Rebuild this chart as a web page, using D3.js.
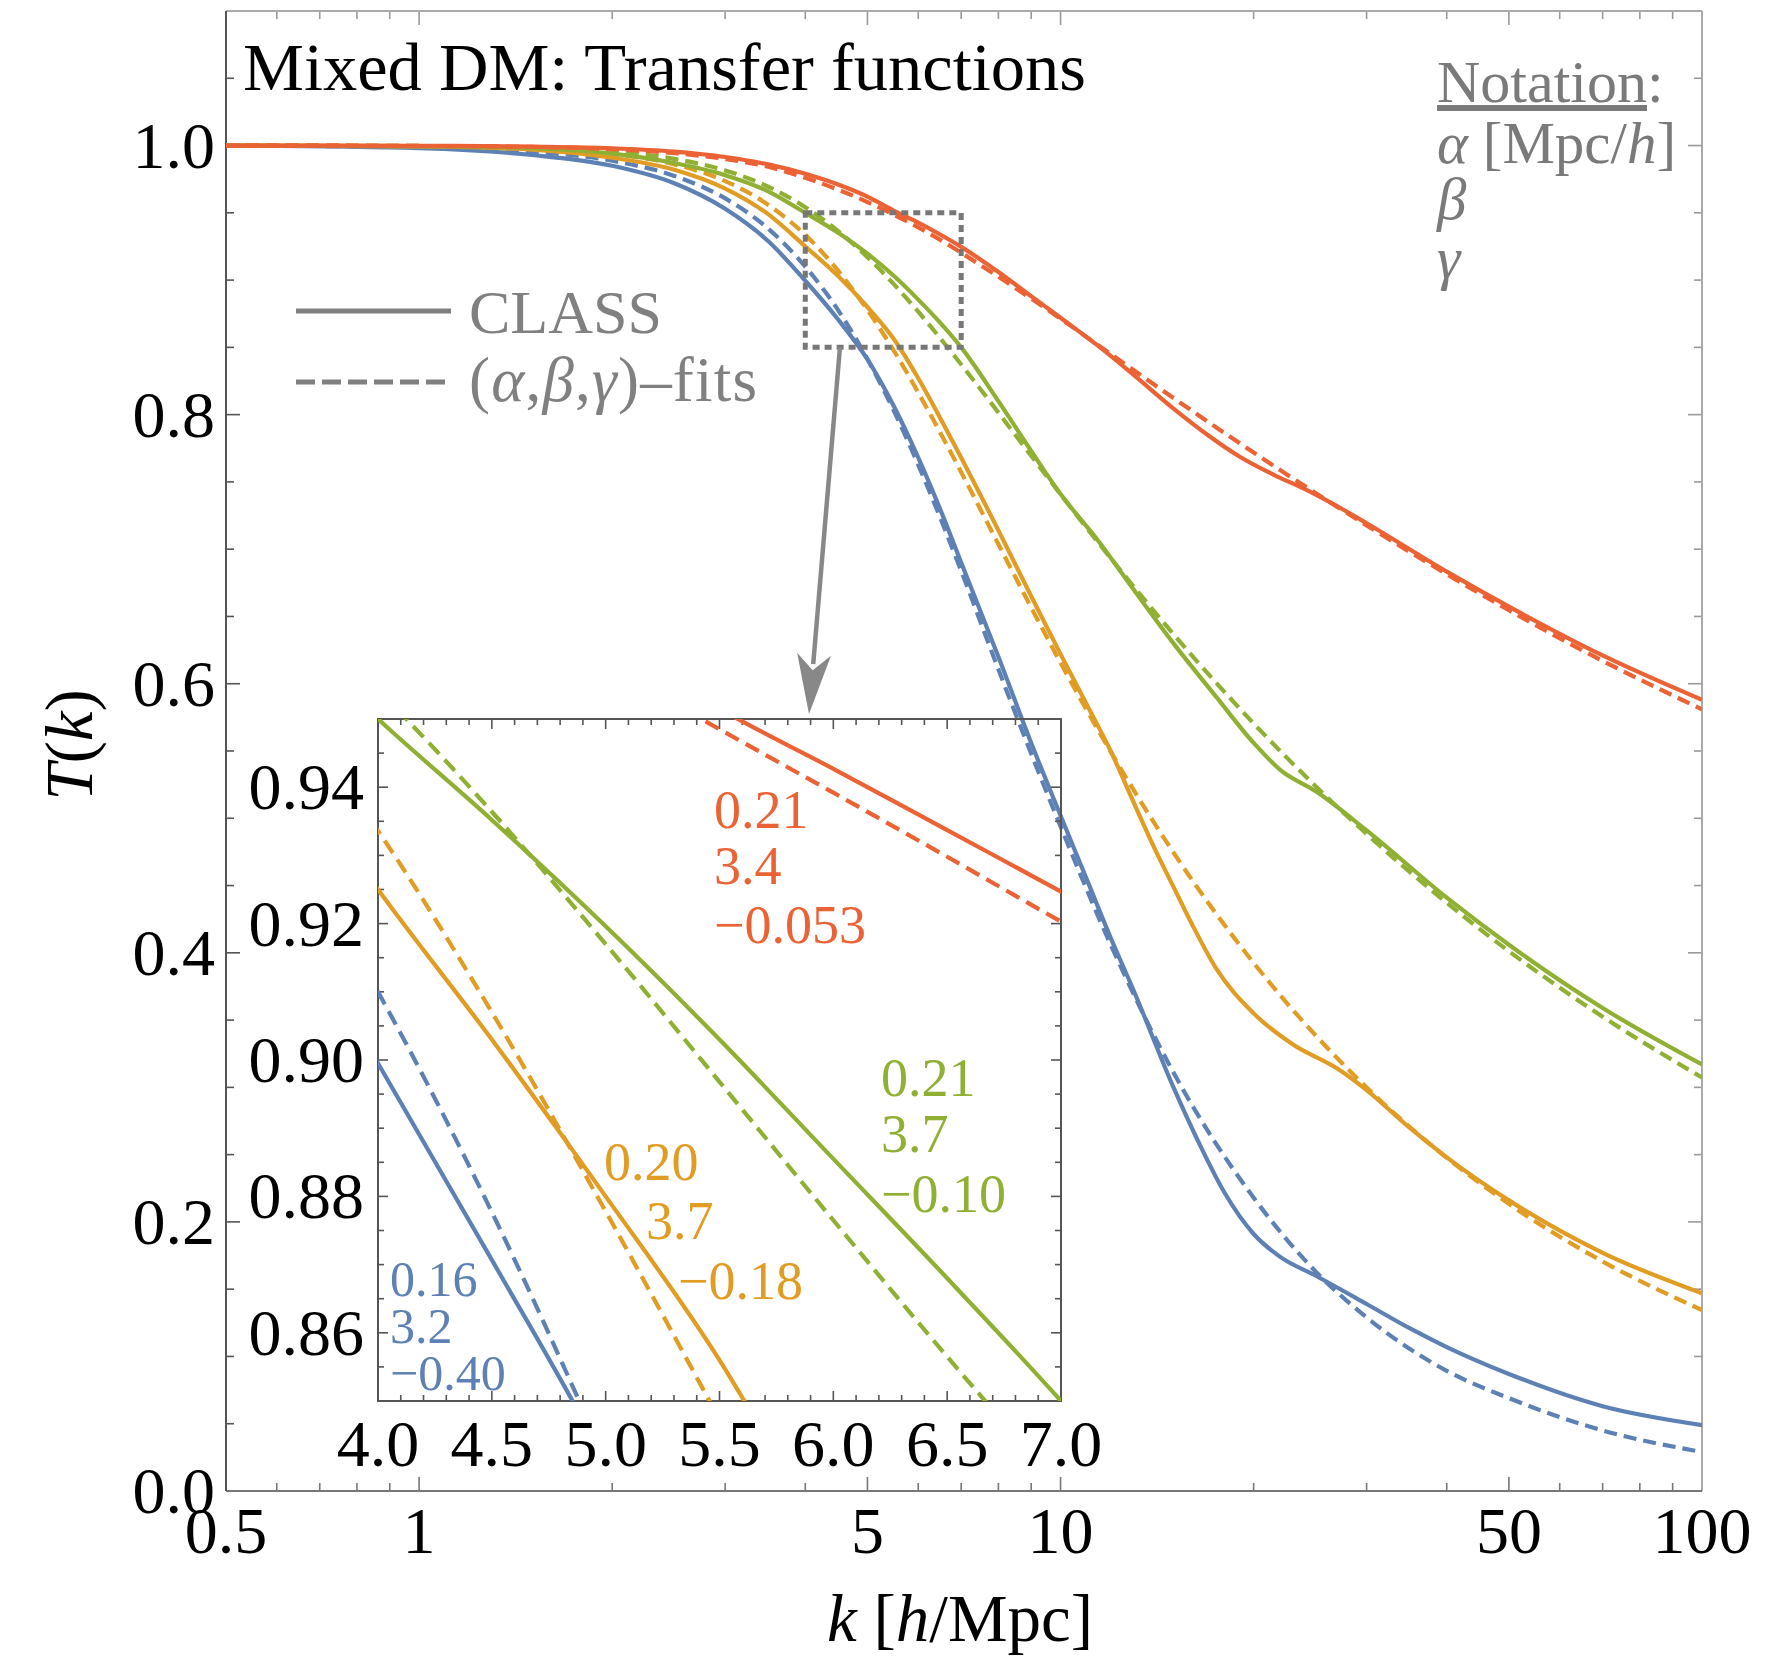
<!DOCTYPE html>
<html><head><meta charset="utf-8">
<script src="https://cdn.jsdelivr.net/npm/d3@7"></script>
<style>
body{margin:0;background:#fff}
text{font-family:"Liberation Serif","Times New Roman",serif}
</style>
</head><body>
<svg id="c" width="1771" height="1662"></svg>
<script>
// ---------------- DATA ----------------
const kGrid = [0.5, 1, 1.5, 2, 2.5, 3, 3.5, 4, 4.5, 5, 5.5, 6, 6.5, 7, 8, 9, 10, 12, 15, 20, 25, 30, 40, 50, 70, 100];

const blueFitT   = [1.0, 0.9988, 0.9955, 0.9887, 0.9774, 0.9607, 0.9383, 0.9100, 0.8777, 0.8413, 0.8026, 0.7627, 0.7228, 0.6838, 0.6107, 0.5480, 0.4940, 0.4050, 0.3110, 0.2180, 0.1630, 0.1290, 0.0893, 0.0690, 0.0450, 0.0290];
const orangeFitT = [1.0, 0.9995, 0.9978, 0.9937, 0.9860, 0.9736, 0.9560, 0.9336, 0.9070, 0.8778, 0.8473, 0.8164, 0.7862, 0.7572, 0.7037, 0.6566, 0.6156, 0.5486, 0.4745, 0.3925, 0.3385, 0.2999, 0.2476, 0.2134, 0.1706, 0.1345];
const greenFitT  = [1.0, 0.9997, 0.9984, 0.9956, 0.9901, 0.9815, 0.9695, 0.9542, 0.9364, 0.9170, 0.8968, 0.8765, 0.8565, 0.8373, 0.8015, 0.7694, 0.7408, 0.6927, 0.6368, 0.5705, 0.5237, 0.4883, 0.4372, 0.4012, 0.3525, 0.3073];
const redFitT    = [1.0, 0.9997, 0.9990, 0.9973, 0.9944, 0.9900, 0.9842, 0.9760, 0.9672, 0.9580, 0.9485, 0.9392, 0.9298, 0.9203, 0.9025, 0.8862, 0.8713, 0.8447, 0.8123, 0.7718, 0.7416, 0.7177, 0.6814, 0.6546, 0.6170, 0.5810];

const blueClassK = [0.5, 1, 1.5, 2, 2.5, 3, 3.5, 4, 4.5, 5, 5.5, 6, 6.5, 7, 8, 9, 10, 11, 12, 13, 15, 16.5, 18, 20, 22, 25, 30, 35, 40, 50, 70, 100];
const blueClassT = [1.0, 0.998, 0.993, 0.985, 0.972, 0.953, 0.929, 0.8995, 0.8707, 0.8410, 0.8060, 0.7680, 0.7290, 0.6900, 0.6200, 0.5560, 0.5020, 0.4540, 0.4100, 0.3720, 0.3000, 0.2570, 0.2220, 0.1910, 0.1740, 0.1600, 0.1390, 0.1210, 0.1070, 0.0870, 0.0630, 0.0490];

const orangeClassK = [0.5, 1, 1.5, 2, 2.5, 3, 3.5, 4, 4.5, 5, 5.5, 6, 6.5, 7, 8, 9, 10, 11, 12, 12.8, 14, 15, 16, 17.5, 20, 23, 27, 30, 35, 40, 50, 70, 100];
const orangeClassT = [1.0, 0.9993, 0.997, 0.991, 0.982, 0.968, 0.949, 0.925, 0.903, 0.880, 0.856, 0.827, 0.797, 0.768, 0.714, 0.665, 0.622, 0.584, 0.549, 0.519, 0.478, 0.449, 0.422, 0.388, 0.355, 0.332, 0.314, 0.298, 0.270, 0.248, 0.216, 0.177, 0.147];

const greenClassK = [0.5, 1, 1.5, 2, 2.5, 3, 3.5, 4, 4.5, 5, 5.5, 6, 6.5, 7, 8, 9, 10, 11.5, 13, 15, 17.5, 20, 22, 25, 30, 40, 50, 70, 100];
const greenClassT = [1.0, 0.9996, 0.998, 0.994, 0.987, 0.978, 0.966, 0.950, 0.9352, 0.9196, 0.9030, 0.8855, 0.8680, 0.8500, 0.810, 0.773, 0.741, 0.705, 0.670, 0.630, 0.590, 0.556, 0.536, 0.520, 0.491, 0.441, 0.406, 0.359, 0.317];

const redClassK = [0.5, 1, 1.5, 2, 2.5, 3, 3.5, 4, 4.5, 5, 5.5, 6, 6.5, 7, 8, 9, 10, 11.5, 13, 15, 17, 19, 21.5, 24, 27, 30, 40, 50, 70, 100];
const redClassT = [1.0, 0.9998, 0.9992, 0.998, 0.9955, 0.9915, 0.986, 0.979, 0.971, 0.962, 0.9515, 0.9427, 0.9337, 0.9247, 0.906, 0.888, 0.872, 0.8503, 0.8295, 0.8045, 0.7845, 0.7689, 0.7553, 0.7448, 0.7319, 0.7193, 0.6833, 0.6573, 0.621, 0.588];

const seriesNames  = ["blue", "orange", "green", "red"];
const seriesColors = ["#5E81B5", "#E19C24", "#8FB032", "#EB6235"];
const paramAlpha = ["0.16", "0.20", "0.21", "0.21"];
const paramBeta  = ["3.2", "3.7", "3.7", "3.4"];
const paramGamma = ["\u22120.40", "\u22120.18", "\u22120.10", "\u22120.053"];

const xTickMajor = [0.5, 1, 5, 10, 50, 100];
const xTickLabels = ["0.5", "1", "5", "10", "50", "100"];
const xTickMinor = [0.6, 0.7, 0.8, 0.9, 2, 3, 4, 6, 7, 8, 9, 20, 30, 40, 60, 70, 80, 90];
const yTickMajor = [0, 0.2, 0.4, 0.6, 0.8, 1.0];
const yTickLabels = ["0.0", "0.2", "0.4", "0.6", "0.8", "1.0"];
const insetXLabels = ["4.0", "4.5", "5.0", "5.5", "6.0", "6.5", "7.0"];
const insetYLabels = ["0.86", "0.88", "0.90", "0.92", "0.94"];

// ---------------- SETUP ----------------
const W = 1771, H = 1662;
const svg = d3.select("#c");
svg.append("rect").attr("width", W).attr("height", H).attr("fill", "#fff");

const M = {l: 226, r: 1702, t: 11, b: 1491};
const x = d3.scaleLog().domain([0.5, 100]).range([M.l, M.r]);
const y = d3.scaleLinear().domain([0, 1.1]).range([M.b, M.t]);

const I = {l: 378, r: 1061, t: 719, b: 1401};
const xi = d3.scaleLinear().domain([4, 7]).range([I.l, I.r]);
const yi = d3.scaleLinear().domain([0.85, 0.95]).range([I.b, I.t]);

const defs = svg.append("defs");
defs.append("clipPath").attr("id", "clipMain").append("rect")
  .attr("x", M.l).attr("y", M.t).attr("width", M.r - M.l).attr("height", M.b - M.t);
defs.append("clipPath").attr("id", "clipInset").append("rect")
  .attr("x", I.l).attr("y", I.t).attr("width", I.r - I.l).attr("height", I.b - I.t);

const clsK = [blueClassK, orangeClassK, greenClassK, redClassK];
const clsT = [blueClassT, orangeClassT, greenClassT, redClassT];
const fitT = [blueFitT, orangeFitT, greenFitT, redFitT];
const series = seriesNames.map((n, i) => ({
  name: n, color: seriesColors[i],
  cls: clsK[i].map((k, j) => [k, clsT[i][j]]),
  fit: kGrid.map((k, j) => [k, fitT[i][j]])
}));

function addText(g, parts, attrs) {
  const t = g.append("text");
  Object.entries(attrs).forEach(([k, v]) => t.attr(k, v));
  parts.forEach(p => {
    const s = t.append("tspan").text(p.t);
    if (p.i) s.attr("font-style", "italic");
    if (p.u) s.attr("text-decoration", "underline");
  });
  return t;
}

// ---------------- MAIN FRAME ----------------
const frame = svg.append("g");
const TM = 14, Tm = 8;
xTickMajor.concat(xTickMinor).forEach(v => {
  const len = xTickMajor.includes(v) ? TM : Tm;
  frame.append("line").attr("x1", x(v)).attr("x2", x(v)).attr("y1", M.b).attr("y2", M.b - len).attr("stroke", "#777").attr("stroke-width", 1.6);
  frame.append("line").attr("x1", x(v)).attr("x2", x(v)).attr("y1", M.t).attr("y2", M.t + len).attr("stroke", "#999").attr("stroke-width", 1.6);
});
d3.range(0, 22).map(i => +(i * 0.05).toFixed(2)).forEach(v => {
  const len = (Math.round(v * 100) % 20 === 0) ? TM : Tm;
  frame.append("line").attr("x1", M.l).attr("x2", M.l + len).attr("y1", y(v)).attr("y2", y(v)).attr("stroke", "#555").attr("stroke-width", 1.6);
  frame.append("line").attr("x1", M.r).attr("x2", M.r - len).attr("y1", y(v)).attr("y2", y(v)).attr("stroke", "#999").attr("stroke-width", 1.6);
});
frame.append("line").attr("x1", M.l).attr("x2", M.r).attr("y1", M.t).attr("y2", M.t).attr("stroke", "#aaa").attr("stroke-width", 2);
frame.append("line").attr("x1", M.r).attr("x2", M.r).attr("y1", M.t).attr("y2", M.b).attr("stroke", "#aaa").attr("stroke-width", 2);
frame.append("line").attr("x1", M.l).attr("x2", M.r).attr("y1", M.b).attr("y2", M.b).attr("stroke", "#777").attr("stroke-width", 2);
frame.append("line").attr("x1", M.l).attr("x2", M.l).attr("y1", M.t).attr("y2", M.b).attr("stroke", "#555").attr("stroke-width", 2);

xTickMajor.forEach((v, i) => {
  frame.append("text").attr("x", x(v)).attr("y", 1553).attr("text-anchor", "middle")
    .attr("font-size", 66).attr("fill", "#000").text(xTickLabels[i]);
});
yTickMajor.forEach((v, i) => {
  frame.append("text").attr("x", 215).attr("y", y(v) + 22).attr("text-anchor", "end")
    .attr("font-size", 66).attr("fill", "#000").text(yTickLabels[i]);
});

addText(svg, [{t: "k", i: true}, {t: " ["}, {t: "h", i: true}, {t: "/Mpc]"}],
  {x: 960, y: 1641, "text-anchor": "middle", "font-size": 67, fill: "#000"});
addText(svg, [{t: "T", i: true}, {t: "("}, {t: "k", i: true}, {t: ")"}],
  {transform: "translate(92,745) rotate(-90)", "text-anchor": "middle", "font-size": 67, fill: "#000"});

svg.append("text").attr("x", 243).attr("y", 90).attr("font-size", 68.5).attr("fill", "#000")
  .text("Mixed DM: Transfer functions");

// legend
const leg = svg.append("g");
leg.append("line").attr("x1", 296).attr("x2", 451).attr("y1", 311).attr("y2", 311).attr("stroke", "#808080").attr("stroke-width", 5);
leg.append("text").attr("x", 469).attr("y", 333).attr("font-size", 62).attr("fill", "#808080").text("CLASS");
leg.append("line").attr("x1", 296).attr("x2", 451).attr("y1", 382).attr("y2", 382).attr("stroke", "#808080").attr("stroke-width", 5).attr("stroke-dasharray", "19,7");
addText(leg, [{t: "("}, {t: "\u03b1", i: true}, {t: ","}, {t: "\u03b2", i: true}, {t: ","}, {t: "\u03b3", i: true}, {t: ")\u2013fits"}],
  {x: 469, y: 401, "font-size": 63, fill: "#808080", textLength: 288, lengthAdjust: "spacing"});

// notation
const nota = svg.append("g");
addText(nota, [{t: "Notation", u: true}, {t: ":"}], {x: 1437, y: 102, "font-size": 60, fill: "#7a7a7a"});
addText(nota, [{t: "\u03b1", i: true}, {t: " [Mpc/"}, {t: "h", i: true}, {t: "]"}], {x: 1437, y: 163, "font-size": 59, fill: "#7a7a7a"});
addText(nota, [{t: "\u03b2", i: true}], {x: 1437, y: 219, "font-size": 59, fill: "#7a7a7a"});
addText(nota, [{t: "\u03b3", i: true}], {x: 1437, y: 278, "font-size": 59, fill: "#7a7a7a"});

// ---------------- MAIN CURVES ----------------
const lineMain = d3.line().x(d => x(d[0])).y(d => y(d[1])).curve(d3.curveMonotoneX);
const gMain = svg.append("g").attr("clip-path", "url(#clipMain)");
series.forEach(s => {
  gMain.append("path").attr("d", lineMain(s.cls)).attr("fill", "none").attr("stroke", s.color).attr("stroke-width", 4.2);
  gMain.append("path").attr("d", lineMain(s.fit)).attr("fill", "none").attr("stroke", s.color).attr("stroke-width", 4.2).attr("stroke-dasharray", "13,7");
});

// zoom rectangle
svg.append("rect").attr("x", x(4)).attr("y", y(0.95)).attr("width", x(7) - x(4)).attr("height", y(0.85) - y(0.95))
  .attr("fill", "none").attr("stroke", "#777").attr("stroke-width", 5).attr("stroke-dasharray", "7,5");

// arrow
const ax1 = x(4.53), ay1 = y(0.85), ax2 = 809, ay2 = 714;
const ang = Math.atan2(ay2 - ay1, ax2 - ax1);
const hl = 60, hw = 17;
const bx = ax2 - hl * Math.cos(ang), by = ay2 - hl * Math.sin(ang);
svg.append("line").attr("x1", ax1).attr("y1", ay1).attr("x2", bx + 10 * Math.cos(ang)).attr("y2", by + 10 * Math.sin(ang)).attr("stroke", "#888").attr("stroke-width", 4.5);
svg.append("path").attr("d", `M${ax2},${ay2} L${bx + hw * Math.sin(ang)},${by - hw * Math.cos(ang)} L${bx + 16 * Math.cos(ang)},${by + 16 * Math.sin(ang)} L${bx - hw * Math.sin(ang)},${by + hw * Math.cos(ang)} Z`)
  .attr("fill", "#888");

// ---------------- INSET ----------------
const gi = svg.append("g");
const iTM = 10, iTm = 6;
d3.range(0, 31).map(i => +(4 + i * 0.1).toFixed(1)).forEach(v => {
  const major = Math.abs(v * 2 - Math.round(v * 2)) < 1e-6;
  const len = major ? iTM : iTm;
  gi.append("line").attr("x1", xi(v)).attr("x2", xi(v)).attr("y1", I.b).attr("y2", I.b - len).attr("stroke", "#555").attr("stroke-width", 1.6);
  gi.append("line").attr("x1", xi(v)).attr("x2", xi(v)).attr("y1", I.t).attr("y2", I.t + len).attr("stroke", "#555").attr("stroke-width", 1.6);
});
d3.range(0, 21).map(i => +(0.85 + i * 0.005).toFixed(3)).forEach(v => {
  const major = Math.abs(v * 50 - Math.round(v * 50)) < 1e-6;
  const len = major ? iTM : iTm;
  gi.append("line").attr("x1", I.l).attr("x2", I.l + len).attr("y1", yi(v)).attr("y2", yi(v)).attr("stroke", "#555").attr("stroke-width", 1.6);
  gi.append("line").attr("x1", I.r).attr("x2", I.r - len).attr("y1", yi(v)).attr("y2", yi(v)).attr("stroke", "#555").attr("stroke-width", 1.6);
});
gi.append("rect").attr("x", I.l).attr("y", I.t).attr("width", I.r - I.l).attr("height", I.b - I.t)
  .attr("fill", "none").attr("stroke", "#555").attr("stroke-width", 2);

insetXLabels.forEach(l => {
  gi.append("text").attr("x", xi(+l)).attr("y", 1466).attr("text-anchor", "middle").attr("font-size", 66).attr("fill", "#000").text(l);
});
insetYLabels.forEach(l => {
  gi.append("text").attr("x", 364).attr("y", yi(+l) + 22).attr("text-anchor", "end").attr("font-size", 66).attr("fill", "#000").text(l);
});

const lineInset = d3.line().x(d => xi(d[0])).y(d => yi(d[1])).curve(d3.curveMonotoneX);
const gIn = svg.append("g").attr("clip-path", "url(#clipInset)");
series.forEach(s => {
  const c = s.cls.filter(d => d[0] >= 3 && d[0] <= 8);
  const f = s.fit.filter(d => d[0] >= 3 && d[0] <= 8);
  gIn.append("path").attr("d", lineInset(c)).attr("fill", "none").attr("stroke", s.color).attr("stroke-width", 4.2);
  gIn.append("path").attr("d", lineInset(f)).attr("fill", "none").attr("stroke", s.color).attr("stroke-width", 4.2).attr("stroke-dasharray", "15,8");
});

// parameter labels
const paramPos = [
  [[390, 1296], [390, 1343], [390, 1390]],   // blue
  [[604, 1180], [646, 1239], [678, 1299]],   // orange
  [[881, 1096], [881, 1152], [881, 1212]],   // green
  [[714, 828], [714, 884], [714, 943]]       // red
];
const paramSize = [50, 54, 54, 54];
series.forEach((s, i) => {
  const vals = [paramAlpha[i], paramBeta[i], paramGamma[i]];
  vals.forEach((v, j) => {
    svg.append("text").attr("x", paramPos[i][j][0]).attr("y", paramPos[i][j][1])
      .attr("font-size", paramSize[i]).attr("fill", s.color).text(v);
  });
});
</script>
</body></html>
